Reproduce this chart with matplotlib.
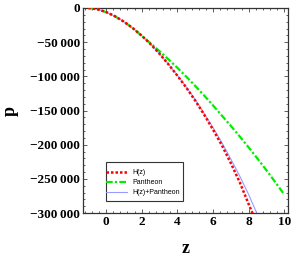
import matplotlib.pyplot as plt
from matplotlib.patches import Rectangle
from matplotlib.ticker import FuncFormatter, AutoMinorLocator

z = [-1, -0.5, 0, 0.5, 1, 1.5, 2, 2.5, 3, 3.5, 4, 4.5, 5, 5.5, 6, 6.5, 7, 7.5, 8, 8.5]
p_hz = [0, -1700, -5900, -12100, -20000, -29500, -40500, -53000, -67000, -82500,
        -99000, -116500, -135500, -156000, -178000, -201000, -227000, -255000, -287000, -318000]
p_joint = [0, -1700, -5900, -12100, -20000, -29500, -40500, -53000, -67000, -82000,
           -98500, -115500, -134000, -154000, -175000, -197000, -221000, -246000, -273000, -303000]

z_pan = [-1, -0.5, 0, 0.5, 1, 1.5, 2, 2.5, 3, 3.5, 4, 4.5, 5, 5.5, 6, 6.5, 7, 7.5, 8, 8.5, 9, 9.5, 10]
p_pan = [0, -1700, -6000, -12200, -20000, -29500, -40800, -51800, -63200, -75200, -87500,
         -100500, -114000, -128000, -142500, -157500, -172500, -188000, -204000, -220500,
         -237500, -255000, -273000]

serif = ['Liberation Serif', 'DejaVu Serif']

fig = plt.figure(figsize=(2.92, 2.58), dpi=100)
ax = fig.add_axes([0.284, 0.174, 0.702, 0.795])

ax.plot(z, p_joint, color='#9a9aff', lw=0.8, label='H(z)+Pantheon', zorder=2)
ax.plot(z_pan, p_pan, color='#00ee00', lw=1.6, linestyle=(0, (3, 1, 1, 1)), label='Pantheon', zorder=3)
ax.plot(z, p_hz, color='#ff0000', lw=1.8, linestyle=(0, (1, 0.8)), label='H(z)', zorder=4)

ax.set_xlim(-1.3, 10.2)
ax.set_ylim(-300000, 0)
ax.set_xticks([0, 2, 4, 6, 8, 10])
ax.set_yticks([0, -50000, -100000, -150000, -200000, -250000, -300000])
ax.xaxis.set_minor_locator(AutoMinorLocator(5))
ax.yaxis.set_minor_locator(AutoMinorLocator(5))


def fmt(v, pos):
    v = int(round(v))
    if v == 0:
        return '0'
    s = '{:,}'.format(abs(v)).replace(',', '\u2009')
    return '\u2212' + s


ax.yaxis.set_major_formatter(FuncFormatter(fmt))
ax.tick_params(which='both', direction='in', top=True, right=True, color='#444444', width=0.6)
ax.tick_params(which='major', length=3, pad=2)
ax.tick_params(which='minor', length=1.5)
for lab in ax.get_xticklabels() + ax.get_yticklabels():
    lab.set_family(serif)
    lab.set_fontweight('bold')
    lab.set_fontsize(9.5)
for s in ax.spines.values():
    s.set_color('#333333')
    s.set_linewidth(0.9)

ax.set_xlabel('z', family=serif, fontweight='bold', fontsize=13, labelpad=9)
ax.set_ylabel('p', family=serif, fontweight='bold', fontsize=13, labelpad=8)

# legend box drawn separately (tight sides, roomy top/bottom)
ax.add_patch(Rectangle((0.112, 0.059), 0.376, 0.19, transform=ax.transAxes,
                       facecolor='white', edgecolor='#333333', lw=0.8, zorder=5))
handles, labels = ax.get_legend_handles_labels()
order = [2, 1, 0]
leg = ax.legend([handles[i] for i in order], [labels[i] for i in order],
                loc='upper left', bbox_to_anchor=(0.114, 0.214), borderaxespad=0,
                prop={'size': 5, 'family': 'Liberation Sans'}, frameon=False,
                handlelength=3.0, labelspacing=0.45, borderpad=0, handletextpad=0.75)
leg.set_zorder(6)

fig.savefig('out.png', dpi=100)
